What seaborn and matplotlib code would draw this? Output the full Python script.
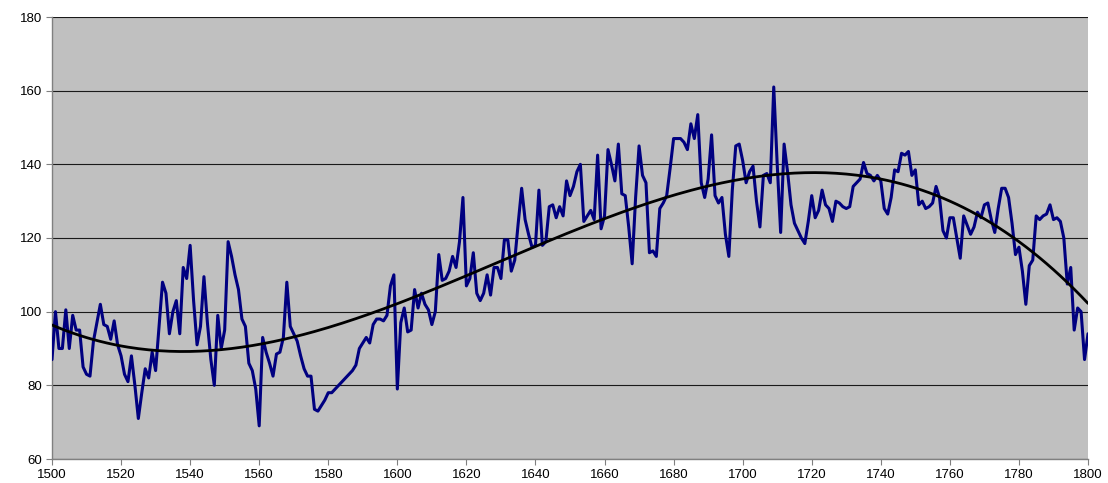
import numpy as np
import pandas as pd
import matplotlib
matplotlib.use("Agg")
import matplotlib.pyplot as plt
import seaborn as sns

# Annual index values, 1500-1800
years = list(range(1500, 1801))
values = [
    87, 100, 90, 90, 100.5, 90, 99, 95, 95, 85,            # 1500-1509
    83, 82.5, 92, 97, 102, 96.5, 96, 92.5, 97.5, 91,       # 1510-1519
    88, 83, 81, 88, 80, 71, 78, 84.5, 82, 89,              # 1520-1529
    84, 96, 108, 105, 94, 100, 103, 94, 112, 109,          # 1530-1539
    118, 103, 91, 96, 109.5, 97, 87, 80, 99, 90,           # 1540-1549
    95, 119, 115, 110, 106, 98, 96, 86, 84, 79,            # 1550-1559
    69, 93, 89, 86, 82.5, 88.5, 89, 93, 108, 96,           # 1560-1569
    94, 92, 88, 84.5, 82.5, 82.5, 73.5, 73, 74.5, 76,      # 1570-1579
    78, 78, 79, 80, 81, 82, 83, 84, 85.5, 90,              # 1580-1589
    91.5, 93, 91.5, 96.5, 98, 98, 97.5, 99, 107, 110,      # 1590-1599
    79, 97, 101, 94.5, 95, 106, 101, 105, 102, 100.5,      # 1600-1609
    96.5, 100, 115.5, 108.5, 109, 111, 115, 112, 119, 131, # 1610-1619
    107, 109, 116, 105, 103, 105, 110, 104.5, 112, 112,    # 1620-1629
    109, 119.5, 119.5, 111, 114, 124, 133.5, 125, 121, 117.5,  # 1630-1639
    118, 133, 118, 119, 128.5, 129, 125.5, 128.5, 126, 135.5,  # 1640-1649
    131.5, 134, 138, 140, 124.5, 126, 127.5, 125, 142.5, 122.5,  # 1650-1659
    126, 144, 140, 135.5, 145.5, 132, 131.5, 123, 113, 131,      # 1660-1669
    145, 137, 135, 116, 116.5, 115, 128, 129.5, 131.5, 139,      # 1670-1679
    147, 147, 147, 146, 144, 151, 147, 153.5, 135, 131,          # 1680-1689
    136, 148, 131.5, 129.5, 131, 121, 115, 133, 145, 145.5,      # 1690-1699
    141, 135, 138, 139.5, 130, 123, 137, 137.5, 135, 161,        # 1700-1709
    140, 121.5, 145.5, 138, 129, 124, 122, 120, 118.5, 124.5,    # 1710-1719
    131.5, 125.5, 127.5, 133, 129, 128, 124.5, 130, 129.5, 128.5,  # 1720-1729
    128, 128.5, 134, 135, 136, 140.5, 137.5, 137, 135.5, 137,      # 1730-1739
    135.5, 128, 126.5, 131, 138.5, 138, 143, 142.5, 143.5, 137,    # 1740-1749
    138.5, 129, 130, 128, 128.5, 129.5, 134, 131, 122, 120,        # 1750-1759
    125.5, 125.5, 120, 114.5, 126, 123.5, 121, 123, 127, 125.5,    # 1760-1769
    129, 129.5, 125, 121.5, 128, 133.5, 133.5, 131, 124, 115.5,    # 1770-1779
    117.5, 111, 102, 112.5, 114, 126, 125, 126, 126.5, 129,        # 1780-1789
    125, 125.5, 124.5, 120, 107.5, 112, 95, 101, 100, 87,          # 1790-1799
    94,                                                            # 1800
]

x_ticks = list(range(1500, 1801, 20))
y_ticks = list(range(60, 181, 20))

df = pd.DataFrame({"year": years, "value": values})

# Polynomial trend line fitted to the annual series
t = (df["year"] - 1650) / 150.0
coef = np.polyfit(t, df["value"], 3)
df["trend"] = np.polyval(coef, t)

sns.set_theme(style="white")
plt.rcParams["font.family"] = ["Liberation Sans", "DejaVu Sans"]

fig = plt.figure(figsize=(11.08, 4.83), dpi=100)
ax = fig.add_axes([52 / 1108, 1 - 459 / 483, (1088 - 52) / 1108, (459 - 17) / 483])
ax.set_facecolor("#C0C0C0")

sns.lineplot(data=df, x="year", y="value", ax=ax, color="#000080", linewidth=2.2, zorder=3)
sns.lineplot(data=df, x="year", y="trend", ax=ax, color="black", linewidth=2.0, zorder=4)

ax.set_xlim(1500, 1800)
ax.set_ylim(60, 180)
ax.set_xticks(x_ticks)
ax.set_yticks(y_ticks)
ax.set_xticklabels([str(v) for v in x_ticks], fontsize=9.5)
ax.set_yticklabels([str(v) for v in y_ticks], fontsize=9.5)
ax.set_xlabel("")
ax.set_ylabel("")

ax.yaxis.grid(True, color="#1a1a1a", linewidth=0.8)
ax.xaxis.grid(False)
ax.set_axisbelow(True)

for side in ("top", "right"):
    ax.spines[side].set_visible(False)
for side in ("left", "bottom"):
    ax.spines[side].set_color("#808080")
    ax.spines[side].set_linewidth(1.0)

ax.tick_params(axis="both", which="both", direction="out", length=4, width=0.8,
               color="#808080", labelcolor="black", left=True, bottom=True, pad=3)

fig.savefig("out.png", dpi=100, facecolor="white")
